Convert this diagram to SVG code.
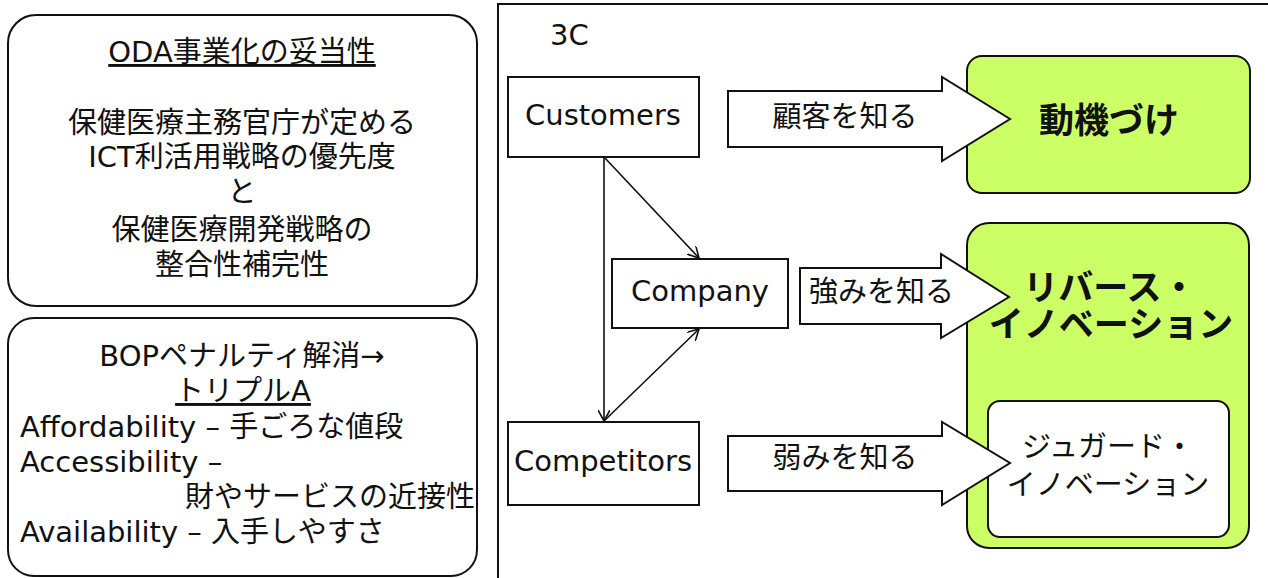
<svg xmlns="http://www.w3.org/2000/svg" width="1268" height="578" viewBox="0 0 1268 578">
<defs>
<style>
text{font-family:"DejaVu Sans","Noto Sans CJK JP",sans-serif;font-size:29px;fill:#111}
.c{text-anchor:middle}
.b{font-weight:bold;font-size:35px}
.box{fill:#fff;stroke:#111;stroke-width:2}
.green{fill:#ccff66;stroke:#111;stroke-width:2}
.ln{stroke:#111;stroke-width:1.6;fill:none}
</style>
<marker id="ah" viewBox="0 0 12 12" refX="11" refY="6" markerWidth="12" markerHeight="12" markerUnits="userSpaceOnUse" orient="auto">
<path d="M0,0 L11,6 L0,12" fill="none" stroke="#111" stroke-width="1.6"/>
</marker>
</defs>
<rect width="1268" height="578" fill="#fff"/>

<g id="oda">
<rect class="box" x="8" y="15" width="469" height="291" rx="28"/>
<text class="c" x="242" y="62" text-decoration="underline">ODA事業化の妥当性</text>
<text class="c" x="242" y="133">保健医療主務官庁が定める</text>
<text class="c" x="242" y="167">ICT利活用戦略の優先度</text>
<text class="c" x="242" y="202">と</text>
<text class="c" x="242" y="240">保健医療開発戦略の</text>
<text class="c" x="242" y="275">整合性補完性</text>
</g>

<g id="bop">
<rect class="box" x="8" y="318" width="469" height="258" rx="26"/>
<text class="c" x="242" y="366">BOPペナルティ解消→</text>
<text class="c" x="243" y="401" text-decoration="underline">トリプルA</text>
<text x="20" y="437">Affordability – 手ごろな値段</text>
<text x="20" y="472">Accessibility –</text>
<text x="475" y="507" text-anchor="end">財やサービスの近接性</text>
<text x="20" y="542">Availability – 入手しやすさ</text>
</g>

<g id="frame">
<path d="M498,578 V4 H1270" fill="none" stroke="#111" stroke-width="2"/>
<text x="550" y="45" font-size="25">3C</text>
</g>

<g id="motivation">
<rect class="green" x="967" y="56" width="283" height="137" rx="15"/>
<text class="c b" x="1109" y="133">動機づけ</text>
</g>

<g id="reverse">
<rect class="green" x="967" y="223" width="282" height="325" rx="22"/>
<text class="c b" x="1110" y="300" font-size="32">リバース・</text>
<text class="c b" x="1111" y="337" font-size="32">イノベーション</text>
</g>

<g id="jugaad">
<rect class="box" x="988" y="401" width="241" height="136" rx="12"/>
<text class="c" x="1108" y="457">ジュガード・</text>
<text class="c" x="1108" y="495">イノベーション</text>
</g>

<g id="customers">
<rect class="box" x="508" y="77" width="191" height="80"/>
<text class="c" x="603" y="125">Customers</text>
</g>

<g id="company">
<rect class="box" x="612" y="259" width="176" height="69"/>
<text class="c" x="700" y="301">Company</text>
</g>

<g id="competitors">
<rect class="box" x="508" y="422" width="191" height="83"/>
<text class="c" x="603" y="471">Competitors</text>
</g>

<g id="arrow-customers">
<path class="box" d="M728,91 H942 V77 L1010,119 L942,161 V147 H728 Z"/>
<text class="c" x="845" y="127">顧客を知る</text>
</g>

<g id="arrow-company">
<path class="box" d="M800,268 H941 V254 L1009,297 L941,338 V324 H800 Z"/>
<text x="809" y="302">強みを知る</text>
</g>

<g id="arrow-competitors">
<path class="box" d="M728,436 H942 V422 L1010,463 L942,505 V491 H728 Z"/>
<text class="c" x="845" y="468">弱みを知る</text>
</g>

<g id="connectors">
<line class="ln" x1="604" y1="157" x2="604" y2="421" marker-end="url(#ah)"/>
<line class="ln" x1="604" y1="157" x2="699" y2="258" marker-end="url(#ah)"/>
<line class="ln" x1="604" y1="421" x2="699" y2="329" marker-end="url(#ah)"/>
</g>
</svg>
